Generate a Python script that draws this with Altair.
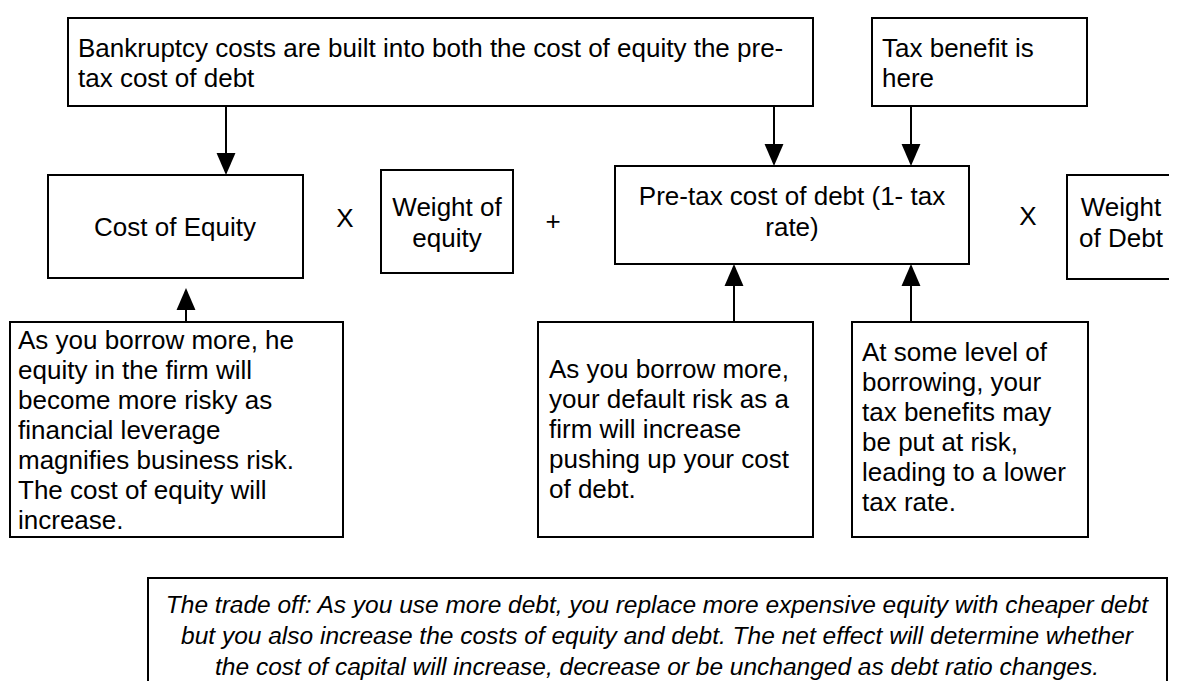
import altair as alt
import pandas as pd

# ---- diagram content (page pixel coordinates) ----
box_names = ["bankruptcy", "tax", "cost_equity", "w_equity", "pretax", "w_debt",
             "note_equity", "note_debt", "note_tax", "tradeoff"]
box_x0 = [68, 872, 48, 381, 615, 1067, 10, 538, 852, 148]
box_x1 = [813, 1087, 303, 513, 969, 1200, 343, 813, 1088, 1167]
box_y0 = [18, 18, 175, 170, 166, 175, 322, 322, 322, 578]
box_y1 = [106, 106, 278, 273, 264, 279, 537, 537, 537, 720]

arrow_x = [226, 774, 911, 186, 734, 911]
arrow_from = [106, 106, 106, 322, 322, 322]
arrow_tip = [175, 166, 166, 288, 264, 264]
arrow_dir = ["down", "down", "down", "up", "up", "up"]

left_texts = [
    "Bankruptcy costs are built into both the cost of equity the pre-\ntax cost of debt",
    "Tax benefit is\nhere",
    "As you borrow more, he\nequity in the firm will\nbecome more risky as\nfinancial leverage\nmagnifies business risk.\nThe cost of equity will\nincrease.",
    "As you borrow more,\nyour default risk as a\nfirm will increase\npushing up your cost\nof debt.",
    "At some level of\nborrowing, your\ntax benefits may\nbe put at risk,\nleading to a lower\ntax rate.",
]
left_x = [78, 882, 18, 549, 862]
left_y = [57, 57, 349, 378, 361]

center_texts = ["Cost of Equity", "Weight of\nequity", "Pre-tax cost of debt (1- tax\nrate)",
                "Weight\nof Debt"]
center_x = [175, 447, 792, 1121]
center_y = [236, 216, 205, 216]

op_texts = ["X", "+", "X"]
op_x = [345, 553, 1028]
op_y = [227, 230, 225]

note_text = ["The trade off: As you use more debt, you replace more expensive equity with cheaper debt\n"
             "but you also increase the costs of equity and debt. The net effect will determine whether\n"
             "the cost of capital will increase, decrease or be unchanged as debt ratio changes."]
note_x = [657]
note_y = [613]

# ---- build tables ----
boxes = pd.DataFrame({"name": box_names, "x0": box_x0, "x1": box_x1, "y0": box_y0, "y1": box_y1})
arrows = pd.DataFrame({"x": arrow_x, "y0": arrow_from, "tip": arrow_tip, "dir": arrow_dir})
arrows["head"] = [t - 11 if d == "down" else t + 11 for t, d in zip(arrow_tip, arrow_dir)]
ltext = pd.DataFrame({"t": left_texts, "x": left_x, "y": left_y})
ctext = pd.DataFrame({"t": center_texts, "x": center_x, "y": center_y})
otext = pd.DataFrame({"t": op_texts, "x": op_x, "y": op_y})
ntext = pd.DataFrame({"t": note_text, "x": note_x, "y": note_y})

W, H = 1161, 673
XS = alt.Scale(domain=[8, 8 + W], nice=False, zero=False)
YS = alt.Scale(domain=[8, 8 + H], nice=False, zero=False, reverse=True)
FONT = "Liberation Sans"
FS = 26

def xy(xf, yf):
    return dict(x=alt.X(f"{xf}:Q", scale=XS, axis=None), y=alt.Y(f"{yf}:Q", scale=YS, axis=None))

rects = alt.Chart(boxes).mark_rect(fill="white", stroke="black", strokeWidth=2, clip=True).encode(
    x2="x1:Q", y2="y1:Q", **xy("x0", "y0"))

shafts = alt.Chart(arrows).mark_rule(stroke="black", strokeWidth=2).encode(
    y2="head:Q", **xy("x", "y0"))

down_heads = alt.Chart(arrows).transform_filter(alt.datum.dir == "down").mark_point(
    shape="M-0.86,-1L0.86,-1L0,1Z", filled=True, size=484, color="black", opacity=1).encode(
    **xy("x", "head"))

up_heads = alt.Chart(arrows).transform_filter(alt.datum.dir == "up").mark_point(
    shape="M-0.86,1L0.86,1L0,-1Z", filled=True, size=484, color="black", opacity=1).encode(
    **xy("x", "head"))

ltxt = alt.Chart(ltext).mark_text(align="left", baseline="alphabetic", font=FONT, fontSize=FS,
                                   lineHeight=30, lineBreak="\n", color="black").encode(
    text="t:N", **xy("x", "y"))

ctxt = alt.Chart(ctext).mark_text(align="center", baseline="alphabetic", font=FONT, fontSize=FS,
                                   lineHeight=31, lineBreak="\n", color="black").encode(
    text="t:N", **xy("x", "y"))

otxt = alt.Chart(otext).mark_text(align="center", baseline="alphabetic", font=FONT, fontSize=FS,
                                   color="black").encode(text="t:N", **xy("x", "y"))

ntxt = alt.Chart(ntext).mark_text(align="center", baseline="alphabetic", font=FONT, fontSize=24.5,
                                   fontStyle="italic", lineHeight=31, lineBreak="\n",
                                   color="black").encode(text="t:N", **xy("x", "y"))

chart = alt.layer(rects, shafts, down_heads, up_heads, ltxt, ctxt, otxt, ntxt).properties(
    width=W, height=H, autosize=alt.AutoSizeParams(type="none"), padding=0,
    background="white").configure_view(strokeWidth=0)

chart.save("out.html", embed_options={"renderer": "svg", "actions": False})
